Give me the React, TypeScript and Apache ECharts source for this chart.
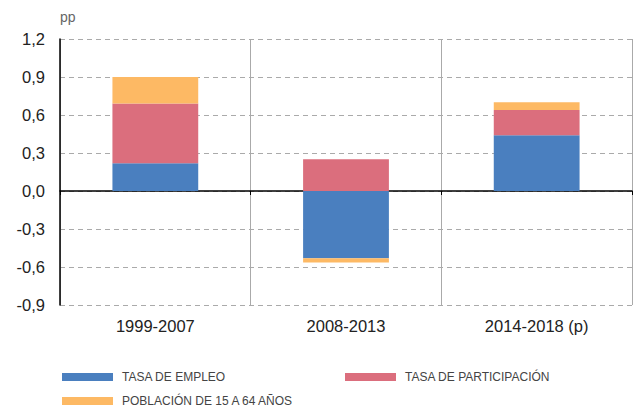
import React, { useEffect, useRef } from "react";
import * as echarts from "echarts";

const categories = ["1999-2007", "2008-2013", "2014-2018 (p)"];
const seriesNames = ["TASA DE EMPLEO", "TASA DE PARTICIPACIÓN", "POBLACIÓN DE 15 A 64 AÑOS"];
const empleo = [0.22, -0.53, 0.44];
const participacion = [0.47, 0.25, 0.2];
const poblacion = [0.21, -0.035, 0.06];
const colors = ["#4a7fbf", "#db6e7d", "#fdb964"];

export default function App() {
  const ref = useRef<HTMLDivElement>(null);
  useEffect(() => {
    const chart = echarts.init(ref.current!, null, { renderer: "svg" });
    const font = "'Liberation Sans', Arial, sans-serif";
    const values = [empleo, participacion, poblacion];
    chart.setOption({
      animation: false,
      textStyle: { fontFamily: font },
      grid: { left: 60, right: 1, top: 39, bottom: 103, containLabel: false },
      graphic: [
        { type: "text", left: 60, top: 10, style: { text: "pp", fontSize: 14, fill: "#666", fontFamily: font } },
      ],
      legend: [
        { left: 62, top: 371, data: [seriesNames[0]] },
        { left: 345, top: 371, data: [seriesNames[1]] },
        { left: 62, top: 395, data: [seriesNames[2]] },
      ].map((l) => ({
        ...l,
        icon: "rect",
        itemWidth: 51,
        itemHeight: 8,
        itemGap: 0,
        padding: 0,
        textStyle: { fontSize: 12, color: "#444", fontFamily: font, padding: [0, 0, 0, 4] },
      })),
      xAxis: [
        {
          type: "category",
          data: categories,
          position: "bottom",
          axisLine: { show: false, onZero: false },
          axisTick: { show: false },
          axisLabel: { fontSize: 16.5, color: "#222", margin: 12 },
          splitLine: { show: true, interval: 0, lineStyle: { color: "#aaa", width: 1 } },
        },
        {
          type: "category",
          data: categories,
          position: "bottom",
          axisLine: { show: true, onZero: true, lineStyle: { color: "#000", width: 1.5 } },
          axisTick: { show: true, interval: 0, length: 4, lineStyle: { color: "#000" } },
          axisLabel: { show: false },
          splitLine: { show: false },
        },
      ],
      yAxis: {
        type: "value",
        min: -0.9,
        max: 1.2,
        interval: 0.3,
        axisLine: { show: true, lineStyle: { color: "#000", width: 1.5 } },
        axisTick: { show: false },
        axisLabel: {
          fontSize: 16.5,
          color: "#222",
          margin: 15,
          formatter: (v: number) => (Math.abs(v) < 1e-9 ? 0 : v).toFixed(1).replace(".", ","),
        },
        splitLine: { show: true, lineStyle: { color: "#aaa", type: [5, 4], width: 1 } },
      },
      series: seriesNames.map((name, i) => ({
        name,
        type: "bar",
        stack: "total",
        xAxisIndex: 0,
        barWidth: "45%",
        data: values[i],
        itemStyle: { color: colors[i] },
      })),
    });
    return () => chart.dispose();
  }, []);
  return <div ref={ref} style={{ width: 633, height: 408, position: "absolute", left: 0, top: 0 }} />;
}
